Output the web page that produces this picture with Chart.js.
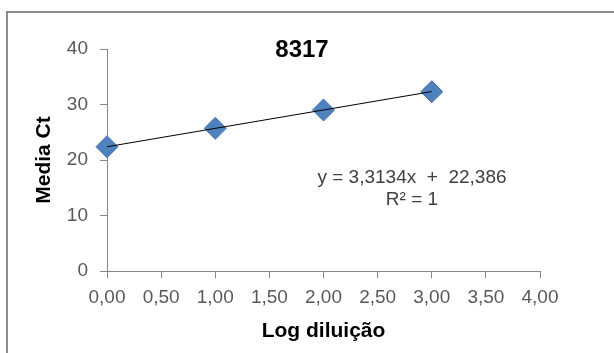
<!DOCTYPE html>
<html>
<head>
<meta charset="utf-8">
<script src="https://cdn.jsdelivr.net/npm/chart.js@4/dist/chart.umd.min.js"></script>
<style>
  body { margin: 0; background: #fff; }
  #wrap { width: 614px; height: 353px; }
</style>
</head>
<body>
<div id="wrap"><canvas id="chart" width="614" height="353"></canvas></div>
<script>
// data
const logDilution = [0, 1, 2, 3];
const meanCt = [22.4, 25.7, 29.0, 32.3];
const trendX = [0, 3];
const trendY = [22.386, 32.326];
const xTickLabels = ['0,00', '0,50', '1,00', '1,50', '2,00', '2,50', '3,00', '3,50', '4,00'];
const chartTitle = '8317';
const equationLines = ['y = 3,3134x  +  22,386', 'R\u00b2 = 1'];

const tickGray = '#868686';
const font = 'Liberation Sans, Arial, sans-serif';

// frame, title and trendline label
const extras = {
  id: 'extras',
  beforeDraw(chart) {
    const ctx = chart.ctx;
    ctx.save();
    ctx.strokeStyle = '#8c8c8c';
    ctx.lineWidth = 2;
    ctx.strokeRect(7, 12, 700, 400);
    ctx.restore();
  },
  afterDraw(chart) {
    const ctx = chart.ctx;
    ctx.save();
    ctx.textAlign = 'center';
    ctx.textBaseline = 'alphabetic';
    ctx.fillStyle = '#000';
    ctx.font = 'bold 24px ' + font;
    ctx.fillText(chartTitle, 302, 57);
    ctx.fillStyle = '#404040';
    ctx.font = '19px ' + font;
    ctx.textBaseline = 'middle';
    ctx.fillText(equationLines[0], 412, 178);
    ctx.fillText(equationLines[1], 412, 200);
    ctx.restore();
  }
};

new Chart(document.getElementById('chart').getContext('2d'), {
  type: 'scatter',
  data: {
    datasets: [
      {
        label: 'Linear',
        type: 'line',
        data: trendX.map((x, i) => ({ x: x, y: trendY[i] })),
        borderColor: '#000',
        borderWidth: 1,
        pointRadius: 0,
        fill: false,
        clip: false
      },
      {
        label: 'Media Ct',
        data: logDilution.map((x, i) => ({ x: x, y: meanCt[i] })),
        pointStyle: 'rectRot',
        pointRadius: 11,
        pointHoverRadius: 11,
        backgroundColor: '#4F81BD',
        borderColor: '#4273B0',
        borderWidth: 1,
        clip: false
      }
    ]
  },
  options: {
    responsive: false,
    animation: false,
    layout: { padding: { left: 0, top: 49, right: 74, bottom: 0 } },
    plugins: {
      legend: { display: false },
      tooltip: { enabled: false }
    },
    scales: {
      x: {
        type: 'linear',
        min: 0,
        max: 4,
        afterFit(scale) { scale.height = 82; },
        border: { color: tickGray, width: 1 },
        grid: { drawOnChartArea: false, color: tickGray, tickLength: 7 },
        ticks: {
          stepSize: 0.5,
          padding: 8,
          color: '#595959',
          font: { family: font, size: 19 },
          callback: (v, i) => xTickLabels[i]
        },
        title: {
          display: true,
          text: 'Log dilui\u00e7\u00e3o',
          color: '#000',
          font: { family: font, size: 21, weight: 'bold' },
          padding: { top: 0, bottom: 9 }
        }
      },
      y: {
        min: 0,
        max: 40,
        afterFit(scale) { scale.width = 107; },
        border: { color: tickGray, width: 1 },
        grid: { drawOnChartArea: false, color: tickGray, tickLength: 7 },
        ticks: {
          stepSize: 10,
          padding: 12,
          color: '#595959',
          font: { family: font, size: 19 }
        },
        title: {
          display: true,
          text: 'Media Ct',
          color: '#000',
          font: { family: font, size: 21, weight: 'bold' },
          padding: { top: 32, bottom: 0 }
        }
      }
    }
  },
  plugins: [extras]
});
</script>
</body>
</html>
